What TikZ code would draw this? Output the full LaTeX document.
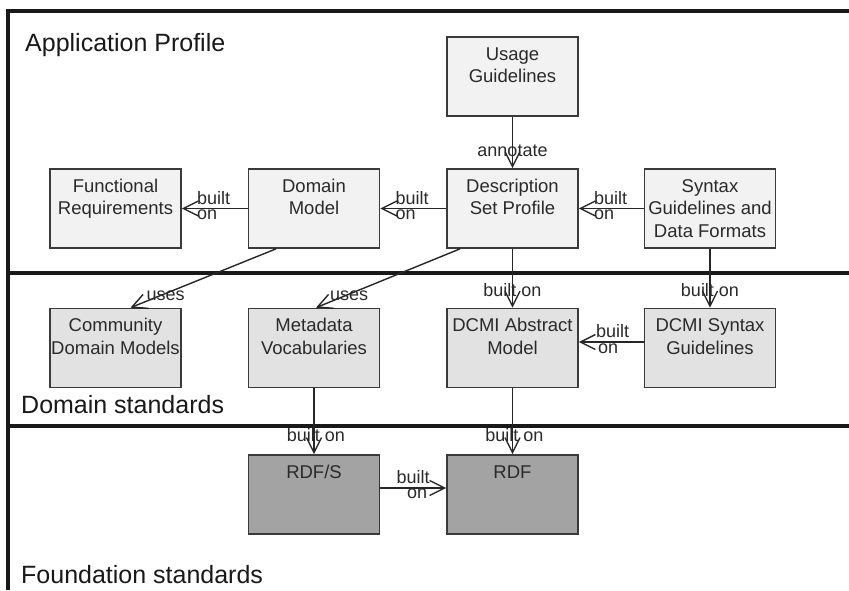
\documentclass[tikz,border=0pt]{standalone}
\usepackage{fontspec}
\setmainfont{Liberation Sans}
\usetikzlibrary{arrows.meta}
\definecolor{boxline}{HTML}{3A3A3A}
\definecolor{txt}{HTML}{2A2A2A}
\definecolor{fillA}{HTML}{F2F2F2}
\definecolor{fillB}{HTML}{E2E2E2}
\definecolor{fillC}{HTML}{A3A3A3}
\newcommand\boxtext[1]{\parbox[c][79pt][t]{131pt}{\centering\rule{0pt}{23pt}#1}}
\tikzset{
  box/.style={draw=boxline, line width=1.7pt, minimum width=131pt, minimum height=79pt,
    inner sep=0pt, text=txt, font=\fontsize{18.5}{22.5}\selectfont},
  boxA/.style={box, fill=fillA},
  boxB/.style={box, fill=fillB},
  boxC/.style={box, fill=fillC},
  conn/.style={draw=black!85, line width=1.4pt,
    -{Straight Barb[length=15pt,width=15pt,line width=1.4pt]}},
  lbl/.style={inner sep=0pt, text=txt, font=\fontsize{18}{20}\selectfont},
  sect/.style={inner sep=0pt, anchor=west, text=black!90, font=\fontsize{25}{29}\selectfont},
  frame/.style={draw=black!90, line width=3.5pt},
}
\begin{document}
\begin{tikzpicture}[x=1pt,y=-1pt]
\useasboundingbox (0,0) rectangle (849,590);
\fill[white] (0,0) rectangle (849,590);
% frame and dividers
\coordinate (ftr) at (849,11);
\coordinate (ftl) at (8,11);
\coordinate (fbl) at (8,590);
\draw[frame] (ftr) -- (ftl) -- (fbl);
\draw[frame] (8,273) -- (849,273);
\draw[frame] (8,426) -- (849,426);
% section titles
\node[sect] (t1) at (25,45) {Application Profile};
\node[sect] (t2) at (21,405) {Domain standards};
\node[sect] (t3) at (21,575) {Foundation standards};
% boxes
\node[boxA] (ug)  at (512.5,76.5)  {\boxtext{Usage\\Guidelines}};
\node[boxA] (fr)  at (115.5,208.5) {\boxtext{Functional\\Requirements}};
\node[boxA] (dm)  at (314,208.5)   {\boxtext{Domain\\Model}};
\node[boxA] (dsp) at (512.5,208.5) {\boxtext{Description\\Set Profile}};
\node[boxA] (sg)  at (710,208.5)   {\boxtext{Syntax\\Guidelines and\\Data Formats}};
\node[boxB] (cdm) at (115.5,348)   {\boxtext{Community\\Domain Models}};
\node[boxB] (mv)  at (314,348)     {\boxtext{Metadata\\Vocabularies}};
\node[boxB] (dam) at (512.5,348)   {\boxtext{DCMI Abstract\\Model}};
\node[boxB] (dsg) at (710,348)     {\boxtext{DCMI Syntax\\Guidelines}};
\node[boxC] (rdfs) at (314,494.5)  {\boxtext{RDF/S}};
\node[boxC] (rdf)  at (512.5,494.5){\boxtext{RDF}};
% connectors
\draw[conn] (ug) -- (dsp);
\node[lbl] (l1) at ([yshift=17pt]dsp.north) {annotate};

\draw[conn] (dsp) -- (dm);
\node[lbl,anchor=west] (l2a) at ([xshift=15pt,yshift=10.5pt]dm.east) {built};
\node[lbl,anchor=west] (l2b) at ([xshift=15pt,yshift=-6.5pt]dm.east) {on};

\draw[conn] (dm) -- (fr);
\node[lbl,anchor=west] (l3a) at ([xshift=15pt,yshift=10.5pt]fr.east) {built};
\node[lbl,anchor=west] (l3b) at ([xshift=15pt,yshift=-6.5pt]fr.east) {on};

\draw[conn] (sg) -- (dsp);
\node[lbl,anchor=west] (l4a) at ([xshift=15pt,yshift=10.5pt]dsp.east) {built};
\node[lbl,anchor=west] (l4b) at ([xshift=15pt,yshift=-6.5pt]dsp.east) {on};

\draw[conn] (dsp) -- (dam);
\node[lbl] (l5) at ([yshift=18pt]dam.north) {built on};

\draw[conn] (sg) -- (dsg);
\node[lbl] (l6) at ([yshift=18pt]dsg.north) {built on};

\draw[conn] ([yshift=6pt]dsg.west) -- ([yshift=6pt]dam.east);
\node[lbl,anchor=west] (l7a) at ([xshift=17pt,yshift=16.5pt]dam.east) {built};
\node[lbl,anchor=west] (l7b) at ([xshift=19pt,yshift=-0.5pt]dam.east) {on};

\draw[conn] ([xshift=-38pt]dm.south) -- ([xshift=15pt]cdm.north);
\node[lbl,anchor=west] (l8) at ([xshift=31pt,yshift=12pt]cdm.north) {uses};

\draw[conn] ([xshift=-52.5pt]dsp.south) -- ([xshift=2pt]mv.north);
\node[lbl,anchor=west] (l9) at ([xshift=16pt,yshift=12pt]mv.north) {uses};

\draw[conn] (mv) -- (rdfs);
\node[lbl] (l10) at ([xshift=2pt,yshift=19pt]rdfs.north) {built on};

\draw[conn] (dam) -- (rdf);
\node[lbl] (l11) at ([xshift=2pt,yshift=19pt]rdf.north) {built on};

\draw[conn] ([yshift=6.5pt]rdfs.east) -- ([yshift=6.5pt]rdf.west);
\node[lbl] (l12a) at ([xshift=-33pt,yshift=17pt]rdf.west) {built};
\node[lbl] (l12b) at ([xshift=-29pt,yshift=1pt]rdf.west) {on};
\end{tikzpicture}
\end{document}
